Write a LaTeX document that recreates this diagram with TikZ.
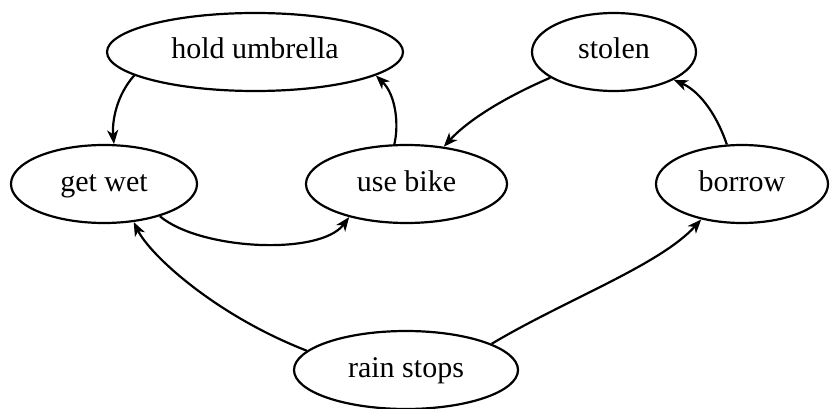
\documentclass[tikz,border=0pt]{standalone}
\usepackage{fontspec}
\setmainfont{Liberation Serif}
\usetikzlibrary{shapes.geometric,arrows.meta}
\begin{document}
\begin{tikzpicture}[x=1pt,y=-1pt,
  state/.style={draw,ellipse,line width=2.2pt,inner sep=0pt,text height=21pt,text depth=7pt,font=\fontsize{30}{36}\selectfont},
  edge/.style={line width=2.2pt,-{Stealth[length=14pt,width=11pt,inset=4pt]}}]
\useasboundingbox (0,0) rectangle (830,409);
\node[state,minimum width=296pt,minimum height=78pt] (hu) at (255,52) {hold umbrella};
\node[state,minimum width=164pt,minimum height=78pt] (st) at (614,52) {stolen};
\node[state,minimum width=186pt,minimum height=78pt] (gw) at (104,184) {get wet};
\node[state,minimum width=201pt,minimum height=78pt] (ub) at (406.5,184) {use bike};
\node[state,minimum width=172pt,minimum height=78pt] (bo) at (742,184) {borrow};
\node[state,minimum width=224pt,minimum height=78pt] (rs) at (406,370) {rain stops};
\draw[edge] (hu.191) .. controls (116,96) and (112,122) .. (gw.76);
\draw[edge] (ub.107) .. controls (399,125) and (396,95) .. (hu.349);
\draw[edge] (gw.330) .. controls (200,250) and (320,256) .. (ub.210);
\draw[edge] (st.202) .. controls (510,95) and (470,118) .. (ub.45);
\draw[edge] (bo.111) .. controls (715,110) and (697,90) .. (st.335);
\draw[edge] (rs.169) .. controls (215,315) and (150,255) .. (gw.308);
\draw[edge] (rs.17) .. controls (565,300) and (660,265) .. (bo.221);
\end{tikzpicture}
\end{document}
